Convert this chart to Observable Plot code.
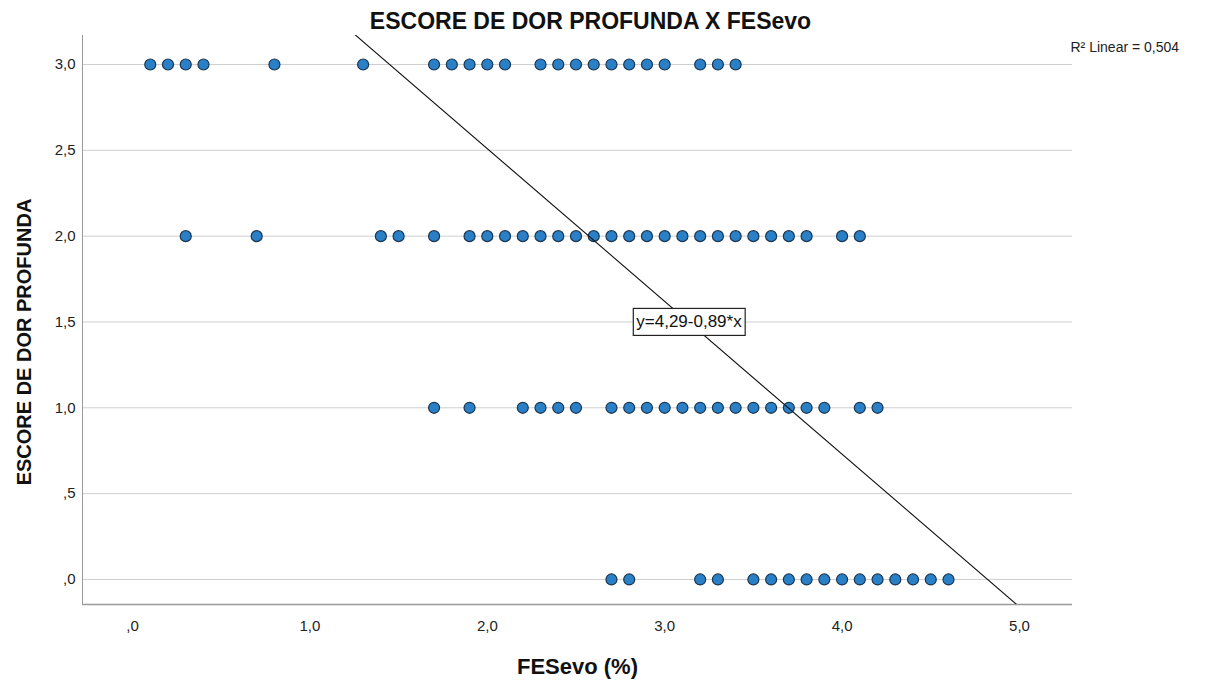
<!DOCTYPE html>
<html>
<head>
<meta charset="utf-8">
<script src="https://cdn.jsdelivr.net/npm/d3@7"></script>
<script src="https://cdn.jsdelivr.net/npm/@observablehq/plot@0.6"></script>
<style>
  html, body { margin: 0; padding: 0; background: #fff; }
</style>
</head>
<body>
<div id="chart"></div>
<script>
// ---- Data ----
const scoreLevels = [3, 2, 1, 0];
const fesScore3 = [0.1,0.2,0.3,0.4,0.8,1.3,1.7,1.8,1.9,2.0,2.1,2.3,2.4,2.5,2.6,2.7,2.8,2.9,3.0,3.2,3.3,3.4];
const fesScore2 = [0.3,0.7,1.4,1.5,1.7,1.9,2.0,2.1,2.2,2.3,2.4,2.5,2.6,2.7,2.8,2.9,3.0,3.1,3.2,3.3,3.4,3.5,3.6,3.7,3.8,4.0,4.1];
const fesScore1 = [1.7,1.9,2.2,2.3,2.4,2.5,2.7,2.8,2.9,3.0,3.1,3.2,3.3,3.4,3.5,3.6,3.7,3.8,3.9,4.1,4.2];
const fesScore0 = [2.7,2.8,3.2,3.3,3.5,3.6,3.7,3.8,3.9,4.0,4.1,4.2,4.3,4.4,4.5,4.6];

const fitIntercept = 4.29;
const fitSlope = -0.89;
const fitLabel = "y=4,29-0,89*x";
const r2Label = "R\u00B2 Linear = 0,504";
const eqAnchor = {x: 3.137, y: 1.5};

const xTicks = [0, 1, 2, 3, 4, 5];
const xTickLabels = [",0", "1,0", "2,0", "3,0", "4,0", "5,0"];
const yTicks = [0, 0.5, 1, 1.5, 2, 2.5, 3];
const yTickLabels = [",0", ",5", "1,0", "1,5", "2,0", "2,5", "3,0"];

const xDomain = [-0.282, 5.299];
const yDomain = [-0.146, 3.169];

const titleText = "ESCORE DE DOR PROFUNDA X FESevo";
const xLabelText = "FESevo (%)";
const yLabelText = "ESCORE DE DOR PROFUNDA";

// ---- Build table ----
const seriesByScore = [fesScore3, fesScore2, fesScore1, fesScore0];
const points = [];
scoreLevels.forEach((s, i) => seriesByScore[i].forEach(f => points.push({fes: f, score: s})));
const fitLine = xDomain.map(x => ({x, y: fitIntercept + fitSlope * x}));

const font = "'Liberation Sans', Arial, sans-serif";

const chart = Plot.plot({
  width: 1207,
  height: 681,
  marginLeft: 82,
  marginRight: 135,
  marginTop: 35,
  marginBottom: 77,
  style: {fontFamily: font, background: "#fff", overflow: "visible"},
  x: {domain: xDomain},
  y: {domain: yDomain},
  marks: [
    Plot.ruleY(yTicks, {stroke: "#cfcfcf", strokeWidth: 1}),
    Plot.ruleX([xDomain[0]], {stroke: "#9a9a9a", strokeWidth: 1}),
    Plot.ruleY([yDomain[0]], {stroke: "#9a9a9a", strokeWidth: 1.6}),
    Plot.axisX(xTicks, {
      tickSize: 0, tickPadding: 16, fontSize: 15, fill: "#222", label: null,
      tickFormat: d => xTickLabels[xTicks.indexOf(d)]
    }),
    Plot.axisY(yTicks, {
      tickSize: 0, tickPadding: 7, fontSize: 15, fill: "#222", label: null,
      tickFormat: d => yTickLabels[yTicks.indexOf(d)]
    }),
    Plot.dot(points, {x: "fes", y: "score", r: 5.5, fill: "#2a80c6", stroke: "#1a3550", strokeWidth: 1.2}),
    Plot.line(fitLine, {x: "x", y: "y", stroke: "#111", strokeWidth: 1.1, clip: true}),
    Plot.text([fitLabel], {
      x: () => eqAnchor.x, y: () => eqAnchor.y, text: d => d,
      fontSize: 17, fill: "#111", textAnchor: "middle", lineAnchor: "middle"
    }),
    Plot.text([r2Label], {
      frameAnchor: "top-right", text: d => d, textAnchor: "start", lineAnchor: "middle",
      dx: -2, dy: 12, fontSize: 14, fill: "#222"
    }),
    Plot.text([titleText], {
      frameAnchor: "top", text: d => d, lineAnchor: "bottom", dy: -7, dx: 13,
      fontSize: 23, fontWeight: "bold", fill: "#111"
    }),
    Plot.text([xLabelText], {
      frameAnchor: "bottom", text: d => d, lineAnchor: "bottom", dy: 69,
      fontSize: 22, fontWeight: "bold", fill: "#111"
    }),
    Plot.text([yLabelText], {
      frameAnchor: "left", text: d => d, rotate: -90, textAnchor: "middle", lineAnchor: "middle",
      dx: -58, dy: 22, fontSize: 20, fontWeight: "bold", fill: "#111"
    })
  ]
});

document.getElementById("chart").append(chart);

// draw a white box with black border around the equation label
chart.querySelectorAll("text").forEach(t => {
  if (t.textContent !== fitLabel) return;
  const b = t.getBBox();
  const rect = document.createElementNS("http://www.w3.org/2000/svg", "rect");
  const padX = 3, padY = 5;
  rect.setAttribute("x", b.x - padX);
  rect.setAttribute("y", b.y - padY + 1);
  rect.setAttribute("width", b.width + 2 * padX);
  rect.setAttribute("height", b.height + 2 * padY - 2);
  rect.setAttribute("fill", "#fff");
  rect.setAttribute("stroke", "#222");
  rect.setAttribute("stroke-width", "1.2");
  const tr = t.getAttribute("transform");
  if (tr) rect.setAttribute("transform", tr);
  t.parentNode.insertBefore(rect, t);
});
</script>
</body>
</html>
